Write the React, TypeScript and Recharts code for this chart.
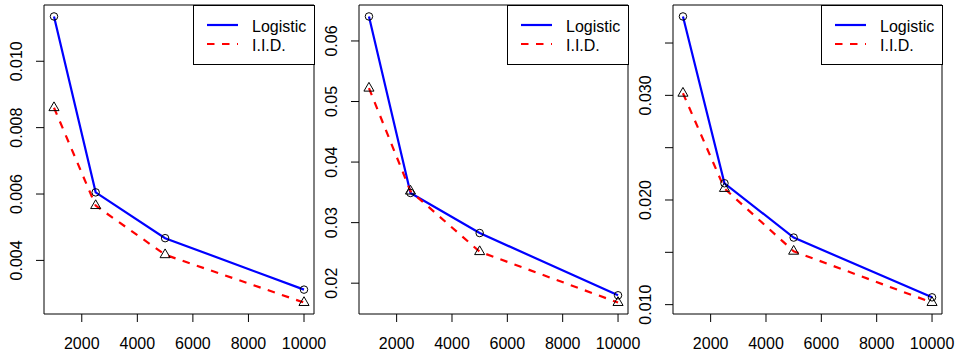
import React from 'react';
import { LineChart, Line, XAxis, YAxis, ReferenceArea, Legend } from 'recharts';

const sampleSizes = [1000, 2500, 5000, 10000];
const xTicks = [2000, 4000, 6000, 8000, 10000];

const logistic1 = [0.01135, 0.00605, 0.00467, 0.00312];
const iid1 = [0.0086, 0.00565, 0.00417, 0.00273];
const yTicks1 = [0.004, 0.006, 0.008, 0.01];

const logistic2 = [0.06405, 0.0349, 0.02828, 0.018];
const iid2 = [0.0522, 0.0352, 0.0252, 0.0168];
const yTicks2 = [0.02, 0.03, 0.04, 0.05, 0.06];

const logistic3 = [0.03754, 0.0216, 0.01641, 0.0107];
const iid3 = [0.0302, 0.0211, 0.0151, 0.0102];
const yTicks3 = [0.01, 0.015, 0.02, 0.025, 0.03, 0.035];
const yLabels3 = [0.01, 0.02, 0.03];

const FONT = '"Liberation Sans", Arial, sans-serif';

// R-style axis range: data range padded by 4% on each side
const pad = (vals: number[]): [number, number] => {
  const lo = Math.min(...vals);
  const hi = Math.max(...vals);
  const r = hi - lo;
  return [lo - 0.04 * r, hi + 0.04 * r];
};

const circleDot = (props: any) => {
  const { cx, cy, key } = props;
  return <circle key={key} cx={cx} cy={cy} r={3.75} fill="none" stroke="#000" strokeWidth={1} />;
};

const triangleDot = (props: any) => {
  const { cx, cy, key } = props;
  const b = 3.75;
  const pts = [
    [cx, cy - 1.555 * b],
    [cx + 1.347 * b, cy + 0.778 * b],
    [cx - 1.347 * b, cy + 0.778 * b],
  ]
    .map((p) => p.join(','))
    .join(' ');
  return <polygon key={key} points={pts} fill="none" stroke="#000" strokeWidth={1} />;
};

const LegendBox = () => (
  <svg width={122} height={61} style={{ display: 'block', overflow: 'visible' }}>
    <rect x={0.5} y={0.5} width={121} height={59} fill="#fff" stroke="#000" strokeWidth={1} />
    <line x1={14} x2={45} y1={20} y2={20} stroke="#0000ff" strokeWidth={2.2} />
    <line x1={14} x2={45} y1={39} y2={39} stroke="#ff0000" strokeWidth={2.2} strokeDasharray="7.5 7.5" />
    <text x={59} y={26.5} fontSize={16} fill="#000" fontFamily={FONT}>Logistic</text>
    <text x={59} y={45.5} fontSize={16} fill="#000" fontFamily={FONT}>I.I.D.</text>
  </svg>
);

interface PanelProps {
  logistic: number[];
  iid: number[];
  yTicks: number[];
  yLabels?: number[];
  digits: number;
  plotLeft: number;
  plotRight: number;
}

function Panel({ logistic, iid, yTicks, yLabels, digits, plotLeft, plotRight }: PanelProps) {
  const data = sampleSizes.map((n, i) => ({ n, logistic: logistic[i], iid: iid[i] }));
  const yDomain = pad([...logistic, ...iid]);
  const xDomain = pad(sampleSizes);
  const labelled = yLabels || yTicks;

  const renderYTick = (props: any) => {
    const { x, y, payload } = props;
    if (!labelled.some((v) => Math.abs(v - payload.value) < 1e-9)) return <g />;
    return (
      <text
        x={x}
        y={y}
        transform={`rotate(-90, ${x}, ${y})`}
        textAnchor="middle"
        fontSize={16}
        fill="#000"
        fontFamily={FONT}
      >
        {payload.value.toFixed(digits)}
      </text>
    );
  };

  const renderXTick = (props: any) => {
    const { x, y, payload } = props;
    return (
      <text x={x} y={y} dy={12} textAnchor="middle" fontSize={16} fill="#000" fontFamily={FONT}>
        {payload.value}
      </text>
    );
  };

  return (
    <div style={{ position: 'absolute', left: 0, top: 0 }}>
      <LineChart
        width={963}
        height={359}
        data={data}
        margin={{ top: 5, right: 963 - plotRight, bottom: 5, left: plotLeft - 40 }}
      >
        <XAxis
          type="number"
          dataKey="n"
          domain={xDomain}
          ticks={xTicks}
          interval={0}
          axisLine={false}
          stroke="#000"
          tickSize={8}
          tickMargin={15}
          height={40}
          tick={renderXTick}
        />
        <YAxis
          type="number"
          domain={yDomain}
          ticks={yTicks}
          interval={0}
          axisLine={false}
          stroke="#000"
          tickSize={8}
          tickMargin={14}
          width={40}
          tick={renderYTick}
        />
        <ReferenceArea
          x1={xDomain[0]}
          x2={xDomain[1]}
          y1={yDomain[0]}
          y2={yDomain[1]}
          ifOverflow="visible"
          fill="none"
          fillOpacity={0}
          stroke="#000"
          strokeOpacity={1}
          strokeWidth={1}
        />
        <Line dataKey="logistic" stroke="#0000ff" strokeWidth={2.2} dot={false} activeDot={false} isAnimationActive={false} legendType="none" />
        <Line dataKey="iid" stroke="#ff0000" strokeWidth={2.2} strokeDasharray="7.5 7.5" dot={false} activeDot={false} isAnimationActive={false} legendType="none" />
        <Line dataKey="logistic" stroke="none" dot={circleDot} activeDot={false} isAnimationActive={false} legendType="none" />
        <Line dataKey="iid" stroke="none" dot={triangleDot} activeDot={false} isAnimationActive={false} legendType="none" />
        <Legend
          layout="horizontal"
          verticalAlign="middle"
          align="center"
          content={() => <LegendBox />}
          wrapperStyle={{ position: 'absolute', left: plotRight - 121, top: 5, width: 122, height: 61 }}
        />
      </LineChart>
    </div>
  );
}

export default function App() {
  return (
    <div style={{ position: 'absolute', left: 0, top: 0, width: 963, height: 359, background: '#fff', fontFamily: FONT }}>
      <Panel logistic={logistic1} iid={iid1} yTicks={yTicks1} digits={3} plotLeft={44} plotRight={314} />
      <Panel logistic={logistic2} iid={iid2} yTicks={yTicks2} digits={2} plotLeft={359} plotRight={628} />
      <Panel logistic={logistic3} iid={iid3} yTicks={yTicks3} yLabels={yLabels3} digits={3} plotLeft={673} plotRight={942} />
    </div>
  );
}
